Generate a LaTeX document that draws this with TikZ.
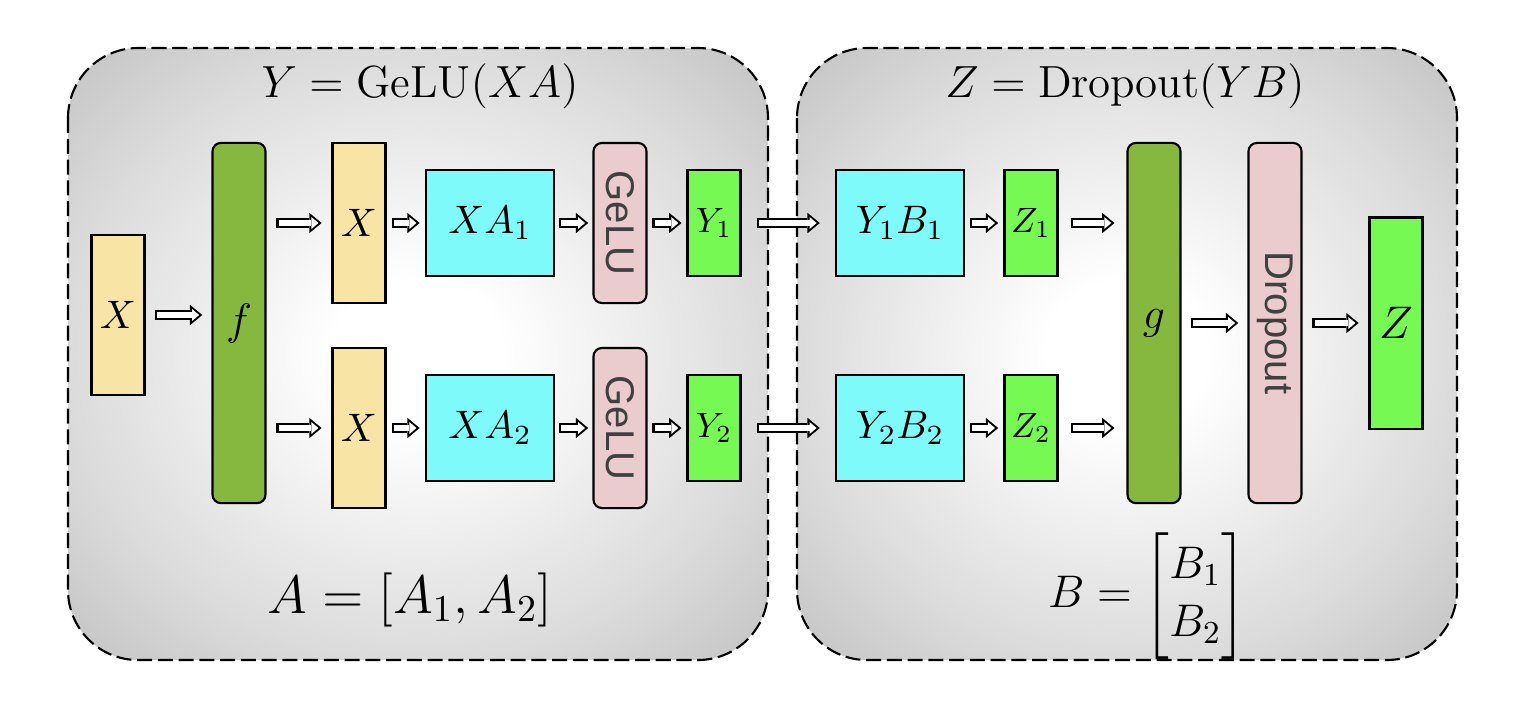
\RequirePackage{fix-cm}
\documentclass[tikz,border=0pt]{standalone}
\usepackage{fontspec}
\usepackage{amsmath}
\usepackage{graphicx}
\usetikzlibrary{arrows.meta}
\newfontfamily\opfont{Liberation Sans}
\definecolor{boxsand}{HTML}{F8E5A5}
\definecolor{boxolive}{HTML}{86B73F}
\definecolor{boxaqua}{HTML}{7FFAFA}
\definecolor{boxpink}{HTML}{EBCCCE}
\definecolor{boxlime}{HTML}{77F954}
\definecolor{ink}{HTML}{404040}
\pgfdeclareradialshading{panelshade}{\pgfpoint{0bp}{0bp}}{color(0bp)=(white); color(6bp)=(white); color(25bp)=(black!14); color(36bp)=(black!24); color(50bp)=(black!24)}

\begin{document}
\begin{tikzpicture}[x=0.01cm,y=-0.01cm,
  panel/.style={draw,shade,shading=panelshade,dash pattern=on 4.3pt off 1.6pt,line width=0.6pt,rounded corners=0.7cm},
  box/.style={draw,line width=0.6pt,inner sep=0pt,minimum width=0.53cm,font=\fontsize{11.3}{13}\selectfont},
  op/.style={box,rounded corners=2.4pt,fill=boxpink,text=ink,font=\opfont\fontsize{11.4}{13}\selectfont},
  input/.style={box,fill=boxsand,minimum height=1.6cm},
  merge/.style={box,fill=boxolive,rounded corners=2.4pt,minimum height=3.6cm,font=\fontsize{12.5}{14}\selectfont},
  prod/.style={box,fill=boxaqua,minimum width=1.28cm,minimum height=1.06cm},
  part/.style={box,fill=boxlime,minimum height=1.06cm,font=\fontsize{10}{12}\selectfont},
  flow/.style={draw=white,line width=1.7pt,shorten <=#1+0.6pt,shorten >=#1+0.9pt,
    -{Triangle[length=2.0pt,width=3.4pt,line width=0pt]},
    preaction={draw=black,line width=2.9pt,shorten <=#1,shorten >=#1,
      -{Triangle[length=3.5pt,width=5.8pt,line width=0pt]}}},
  flow/.default=2.5pt]
  \useasboundingbox (0,0) rectangle (1520,708);

  % the two halves
  \draw[panel] (68,48) rectangle (768,660);
  \draw[panel] (797,48) rectangle (1457,660);
  \node[font=\fontsize{12.8}{15}\selectfont] (ytitle) at (420,86) {$Y=\mathrm{GeLU}(XA)$};
  \node[font=\fontsize{12.8}{15}\selectfont] (ztitle) at (1125,86) {$Z=\mathrm{Dropout}(YB)$};
  \node[font=\fontsize{15.4}{18}\selectfont] (asplit) at (410,600) {$A=[A_1,A_2]$};
  \node[font=\fontsize{13}{16.5}\selectfont] (bsplit) at (1147,596) {$B=\begin{bmatrix}B_1\\B_2\end{bmatrix}$};

  % first half: column split of A
  \node[input] (x0) at (118,315) {$X$};
  \node[merge] (f) at (239,323) {$f$};
  \node[input] (x1) at (359,223) {$X$};
  \node[input] (x2) at (359,428) {$X$};
  \node[prod] (xa1) at (490,223) {$XA_1$};
  \node[prod] (xa2) at (490,428) {$XA_2$};
  \node[op,minimum height=1.6cm] (gelu1) at (620,223) {\rotatebox{-90}{GeLU}};
  \node[op,minimum height=1.6cm] (gelu2) at (620,428) {\rotatebox{-90}{GeLU}};
  \node[part] (y1) at (714,223) {$Y_1$};
  \node[part] (y2) at (714,428) {$Y_2$};

  % second half: row split of B
  \node[prod] (yb1) at (900,223) {$Y_1B_1$};
  \node[prod] (yb2) at (900,428) {$Y_2B_2$};
  \node[part] (z1) at (1031,223) {$Z_1$};
  \node[part] (z2) at (1031,428) {$Z_2$};
  \node[merge] (g) at (1154,323) {$g$};
  \node[op,minimum height=3.6cm] (drop) at (1275,323) {\rotatebox{-90}{Dropout}};
  \node[box,fill=boxlime,minimum height=2.11cm,font=\fontsize{13}{15}\selectfont] (z) at (1396,323) {$Z$};

  \draw[flow=2.6pt] (x0) -- (f.west |- x0);
  \draw[flow=2.8pt] (f.east |- x1) -- (x1);
  \draw[flow=2.8pt] (f.east |- x2) -- (x2);
  \draw[flow=1.5pt] (x1) -- (xa1);
  \draw[flow=1.5pt] (x2) -- (xa2);
  \draw[flow=1.2pt] (xa1) -- (gelu1);
  \draw[flow=1.2pt] (xa2) -- (gelu2);
  \draw[flow=1.4pt] (gelu1) -- (y1);
  \draw[flow=1.4pt] (gelu2) -- (y2);
  \draw[flow=4.3pt] (y1) -- (yb1);
  \draw[flow=4.3pt] (y2) -- (yb2);
  \draw[flow=1.5pt] (yb1) -- (z1);
  \draw[flow=1.5pt] (yb2) -- (z2);
  \draw[flow=3.4pt] (z1) -- (g.west |- z1);
  \draw[flow=3.4pt] (z2) -- (g.west |- z2);
  \draw[flow=2.6pt] (g) -- (drop);
  \draw[flow=2.8pt] (drop) -- (z);
\end{tikzpicture}
\end{document}
